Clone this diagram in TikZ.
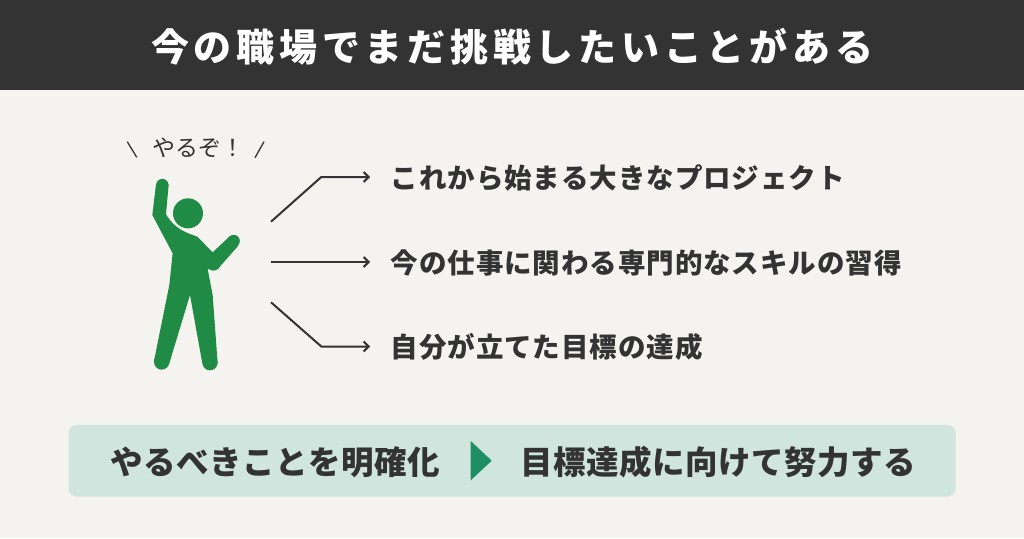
\documentclass[tikz,border=0pt]{standalone}
\usepackage{fontspec}
\usepackage{xcolor}
\usetikzlibrary{arrows.meta}
\setmainfont{Noto Sans CJK JP}
\definecolor{paper}{HTML}{F5F3EF}
\definecolor{dark}{HTML}{333333}
\definecolor{mint}{HTML}{CFE5DD}
\definecolor{person}{HTML}{1F8B44}
\definecolor{teal}{HTML}{1E8E64}
\newcommand{\spaced}[2]{\fontsize{#1}{#1}\selectfont\addfontfeature{LetterSpace=#2}}

\begin{document}
\begin{tikzpicture}[x=1pt, y=-1pt, >={Straight Barb[length=5pt,width=10pt]},
    title/.style = {anchor=center, text=white, font=\bfseries\spaced{38}{12.5}, inner sep=0pt},
    item/.style = {anchor=west, text=dark, font=\bfseries\spaced{27.5}{3.4}, inner sep=0pt, text height=25pt, text depth=3pt},
    band/.style = {anchor=center, text=dark, font=\bfseries\spaced{32.5}{1.5}, inner sep=0pt},
    say/.style = {anchor=center, text=dark, font=\spaced{23}{0}, inner sep=0pt},
    lead/.style = {->, draw=dark, line width=2pt, shorten >=20.5pt},
    tick/.style = {draw=dark, line width=1.3pt}]
    \useasboundingbox (0,0) rectangle (1024,538);
    \fill[paper] (0,0) rectangle (1024,538);
    \fill[dark] (0,0) rectangle (1024,90);
    \fill[mint, rounded corners=8pt] (68.5,425) rectangle (955.5,496.5);

    \node[title] (n_title) at (512,47) {今の職場でまだ挑戦したいことがある};

    % person
    \begin{scope}[shift={(110,125)}, x=0.3333pt, y=-0.3333pt]
        \fill[person] (234,265) circle (45);
        \fill[person] (138,178) -- (127,270) -- (188,385) -- (178,480) -- (132,708)
            -- (177,718) -- (240,510) -- (277,715) -- (323,715) -- (308,510) -- (293,432)
            -- (325,430) -- (385,362) -- (358,335) -- (308,382) -- (262,335)
            .. controls (225,322) and (195,312) .. (168,268) -- (176,178) -- cycle;
        \fill[person] (157,180) circle (18.5);
        \fill[person] (155,711) circle (23);
        \fill[person] (300,713) circle (23);
        \fill[person] (371,348) circle (18.5);
        \fill[person] (310,415) circle (22);
    \end{scope}

    \node[say] (n_say) at (198,148) {やるぞ！};
    \coordinate (s_1) at (127.3,141.7);
    \coordinate (s_2) at (136.7,157.3);
    \coordinate (s_3) at (264,141.7);
    \coordinate (s_4) at (255,157.7);
    \draw[tick] (s_1) -- (s_2);
    \draw[tick] (s_3) -- (s_4);

    \node[item] (n_1) at (390.5,177) {これから始まる大きなプロジェクト};
    \node[item] (n_2) at (390.5,262) {今の仕事に関わる専門的なスキルの習得};
    \node[item] (n_3) at (390.5,346.5) {自分が立てた目標の達成};

    \coordinate (a_1) at (271,221.7);
    \coordinate (b_1) at (321.3,177);
    \coordinate (a_2) at (271,262);
    \coordinate (a_3) at (271,302.3);
    \coordinate (b_3) at (321.3,346.5);
    \draw[lead] (a_1) -- (b_1) -- (n_1.west);
    \draw[lead] (a_2) -- (n_2.west);
    \draw[lead] (a_3) -- (b_3) -- (n_3.west);

    \node[band] (n_left) at (275,462) {やるべきことを明確化};
    \node[band] (n_right) at (718.5,462) {目標達成に向けて努力する};
    \fill[teal] (470.7,441) -- (491.7,460.7) -- (470.7,480.3) -- cycle;
\end{tikzpicture}
\end{document}
